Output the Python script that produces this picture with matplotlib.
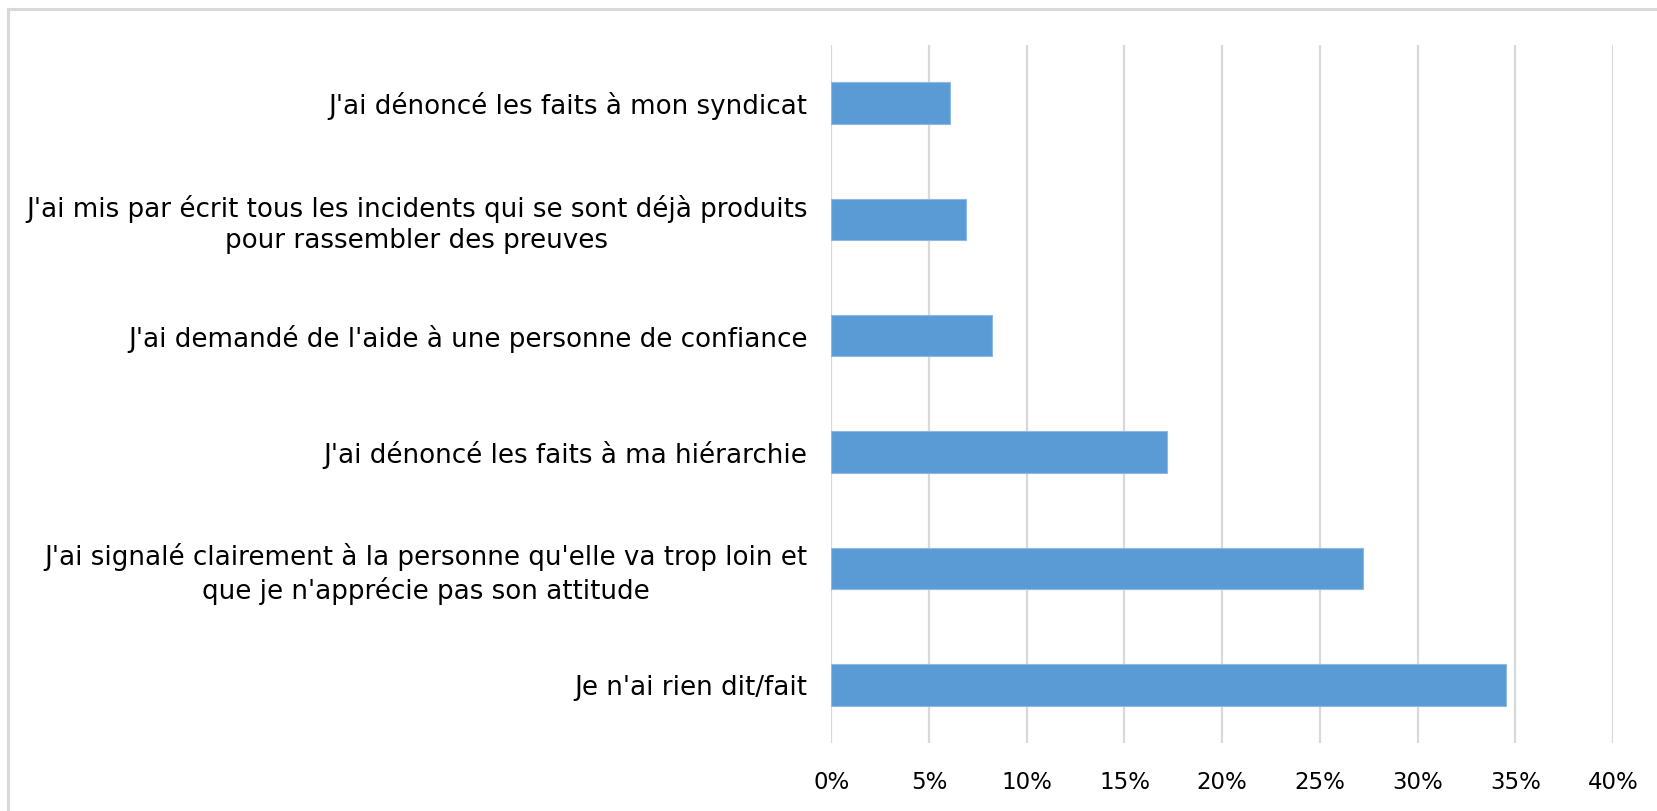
import matplotlib
matplotlib.use("Agg")
import matplotlib.pyplot as plt
from matplotlib.lines import Line2D
from matplotlib.ticker import FuncFormatter

categories = [
    "J'ai dénoncé les faits à mon syndicat",
    "J'ai mis par écrit tous les incidents qui se sont déjà produits\npour rassembler des preuves",
    "J'ai demandé de l'aide à une personne de confiance",
    "J'ai dénoncé les faits à ma hiérarchie",
    "J'ai signalé clairement à la personne qu'elle va trop loin et\nque je n'apprécie pas son attitude",
    "Je n'ai rien dit/fait",
]
values = [6.1, 6.9, 8.25, 17.2, 27.2, 34.5]
x_ticks = [0, 5, 10, 15, 20, 25, 30, 35, 40]

fig = plt.figure(figsize=(16.57, 8.11), dpi=100)
ax = fig.add_axes([0.5016, 0.0838, 0.9736 - 0.5016, 0.9449 - 0.0838])

ypos = list(range(len(categories)))
ax.barh(ypos, values, height=0.356, color="#5B9BD5", edgecolor="#8FB8E3",
        linewidth=0.8, zorder=3)
ax.set_ylim(len(categories) - 0.5, -0.5)
ax.set_xlim(0, 40)
ax.set_xticks(x_ticks)
ax.xaxis.set_major_formatter(FuncFormatter(lambda v, p: f"{v:.0f}%"))
ax.set_yticks(ypos)
ax.set_yticklabels(categories, multialignment="center", fontsize=18.8,
                   linespacing=1.25)
ax.tick_params(axis="y", length=0, pad=17)
ax.tick_params(axis="x", length=0, pad=20, labelsize=16.5)
ax.grid(axis="x", color="#D9D9D9", linewidth=1.6, zorder=0)
ax.grid(axis="y", visible=False)
for s in ax.spines.values():
    s.set_visible(False)

# outer chart border (top and left)
fig.add_artist(Line2D([8 / 1657, 1.0], [1 - 9 / 811, 1 - 9 / 811],
                      transform=fig.transFigure, color="#D9D9D9", linewidth=2.2))
fig.add_artist(Line2D([8 / 1657, 8 / 1657], [0, 1 - 9 / 811],
                      transform=fig.transFigure, color="#D9D9D9", linewidth=2.2))

fig.savefig("out.png", dpi=100, facecolor="white")
